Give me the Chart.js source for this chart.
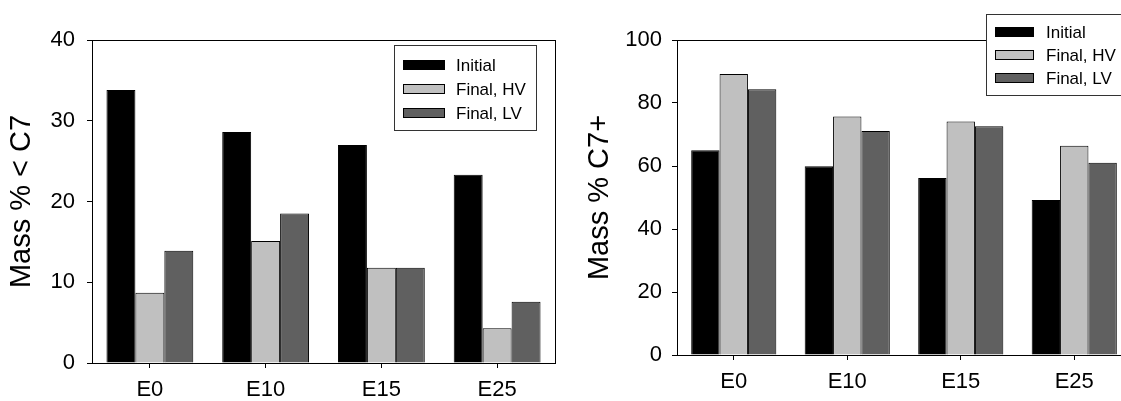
<!DOCTYPE html>
<html>
<head>
<meta charset="utf-8">
<script src="https://cdn.jsdelivr.net/npm/chart.js@4/dist/chart.umd.min.js"></script>
<style>
  html, body { margin: 0; padding: 0; background: #fff; overflow: hidden; width: 1121px; height: 401px; }
  #wrap { position: relative; width: 1121px; height: 401px; overflow: hidden; }
  #leftChart { position: absolute; left: 0; top: 0; }
  #rightChart { position: absolute; left: 560px; top: 0; }
</style>
</head>
<body>
<div id="wrap">
  <canvas id="leftChart" width="560" height="401"></canvas>
  <canvas id="rightChart" width="580" height="401"></canvas>
</div>
<script>
const categories = ['E0', 'E10', 'E15', 'E25'];
const seriesNames = ['Initial', 'Final, HV', 'Final, LV'];

// Mass % < C7
const lowInitial = [33.8, 28.6, 27.0, 23.3];
const lowFinalHV = [8.7, 15.1, 11.8, 4.3];
const lowFinalLV = [13.9, 18.5, 11.8, 7.6];

// Mass % C7+
const highInitial = [65.0, 59.9, 56.2, 49.2];
const highFinalHV = [89.2, 75.7, 74.1, 66.4];
const highFinalLV = [84.4, 71.1, 72.6, 61.0];

const leftTicks = [0, 10, 20, 30, 40];
const rightTicks = [0, 20, 40, 60, 80, 100];

const colors = ['#000000', '#c0c0c0', '#606060'];
const fontFamily = '"Liberation Sans", Arial, sans-serif';

// frame round the plot + legend box drawn inside the chart
const boxPlugin = {
    id: 'boxLegend',
    afterDraw(chart, args, opts) {
        const ctx = chart.ctx;
        const a = chart.chartArea;
        ctx.save();
        ctx.strokeStyle = '#000';
        ctx.lineWidth = 1;
        ctx.strokeRect(Math.round(a.left) + 0.5, Math.round(a.top) + 0.5,
            Math.round(a.right - a.left), Math.round(a.bottom - a.top));

        const b = opts.box;
        ctx.fillStyle = '#fff';
        ctx.fillRect(b.x, b.y, b.w, b.h);
        ctx.strokeStyle = '#333';
        ctx.strokeRect(b.x + 0.5, b.y + 0.5, b.w, b.h);
        ctx.font = '17px ' + fontFamily;
        ctx.textBaseline = 'middle';
        chart.data.datasets.forEach((ds, i) => {
            const cy = b.row0 + i * b.rowGap;
            ctx.fillStyle = ds.backgroundColor;
            ctx.fillRect(b.sx, cy - 5, b.sw, 10);
            ctx.strokeStyle = '#000';
            ctx.strokeRect(b.sx + 0.5, cy - 5 + 0.5, b.sw - 1, 9);
            ctx.fillStyle = '#000';
            ctx.fillText(ds.label, b.tx, cy + 1);
        });
        ctx.restore();
    }
};

function makeChart(id, values, ticks, title, cfg) {
    const ctx = document.getElementById(id).getContext('2d');
    return new Chart(ctx, {
        type: 'bar',
        data: {
            labels: categories,
            datasets: values.map((v, i) => ({
                label: seriesNames[i],
                data: v,
                backgroundColor: colors[i],
                borderColor: '#000',
                borderWidth: 1,
                categoryPercentage: 0.75,
                barPercentage: 1.0
            }))
        },
        options: {
            responsive: false,
            animation: false,
            layout: { padding: { top: 40, right: cfg.padRight, left: 0, bottom: 0 } },
            plugins: {
                legend: { display: false },
                tooltip: { enabled: false },
                boxLegend: { box: cfg.box }
            },
            scales: {
                x: {
                    grid: { offset: false, drawOnChartArea: false, color: '#000', tickLength: 5 },
                    border: { color: '#000' },
                    ticks: { color: '#000', padding: 9, font: { family: fontFamily, size: 22 } },
                    afterFit: s => { s.height = cfg.xHeight; }
                },
                y: {
                    min: ticks[0],
                    max: ticks[ticks.length - 1],
                    afterBuildTicks: s => { s.ticks = ticks.map(v => ({ value: v })); },
                    grid: { drawOnChartArea: false, color: '#000', tickLength: 5 },
                    border: { color: '#000' },
                    ticks: { color: '#000', padding: cfg.tickPad, font: { family: fontFamily, size: 22 } },
                    title: {
                        display: true,
                        text: title,
                        color: '#000',
                        font: { family: fontFamily, size: 29 },
                        padding: { top: cfg.titlePad, bottom: 0 }
                    },
                    afterFit: s => { s.width = cfg.yWidth; }
                }
            }
        },
        plugins: [boxPlugin]
    });
}

makeChart('leftChart', [lowInitial, lowFinalHV, lowFinalLV], leftTicks, 'Mass % < C7', {
    padRight: 5, xHeight: 38, yWidth: 92, tickPad: 12, titlePad: 5,
    box: { x: 394, y: 45, w: 142, h: 85, sx: 403, sw: 42, tx: 456, row0: 65, rowGap: 24 }
});

makeChart('rightChart', [highInitial, highFinalHV, highFinalLV], rightTicks, 'Mass % C7+', {
    padRight: 9, xHeight: 46, yWidth: 117, tickPad: 10, titlePad: 23,
    box: { x: 426, y: 14, w: 170, h: 81, sx: 435, sw: 39, tx: 486, row0: 32, rowGap: 23 }
});
</script>
</body>
</html>
